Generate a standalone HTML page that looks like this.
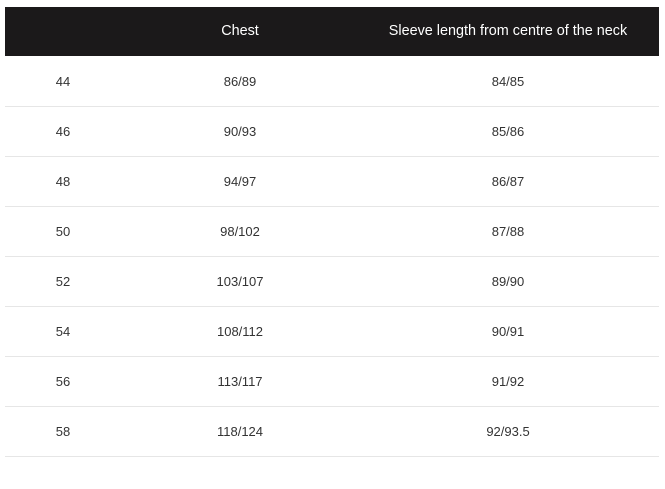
<!DOCTYPE html>
<html><head><meta charset="utf-8"><style>
html,body{margin:0;padding:0;background:#fff;width:665px;height:489px;overflow:hidden;font-family:"Liberation Sans",sans-serif;}
.hdr{position:absolute;left:5px;top:7px;width:654px;height:49px;background:#1b191a;}
.cell{position:absolute;width:300px;margin-left:-150px;text-align:center;font-size:13px;color:#333;line-height:16px;}
.h{color:#fff;font-size:14.4px;}
.line{position:absolute;left:5px;width:654px;height:1px;background:#e6e6e6;}
</style></head><body>
<div class="hdr"></div>
<div class="cell h" style="left:240px;top:23px">Chest</div>
<div class="cell h" style="left:508px;top:23px">Sleeve length from centre of the neck</div>
<div id="rows"></div>
<script>
const sizes=["44","46","48","50","52","54","56","58"];
const chest=["86/89","90/93","94/97","98/102","103/107","108/112","113/117","118/124"];
const sleeve=["84/85","85/86","86/87","87/88","89/90","90/91","91/92","92/93.5"];
const root=document.getElementById('rows');
sizes.forEach((s,i)=>{
  const top=56+i*50;
  [[63,s,'size'],[240,chest[i],'chest'],[508,sleeve[i],'sleeve']].forEach(c=>{
    const d=document.createElement('div');
    d.className='cell';
    d.style.left=c[0]+'px';d.style.top=(top+18)+'px';
    d.textContent=c[1];
    
    
    root.appendChild(d);
  });
  const l=document.createElement('div');
  l.className='line';l.style.top=(top+50)+'px';
  
  
  root.appendChild(l);
});
</script>
</body></html>
